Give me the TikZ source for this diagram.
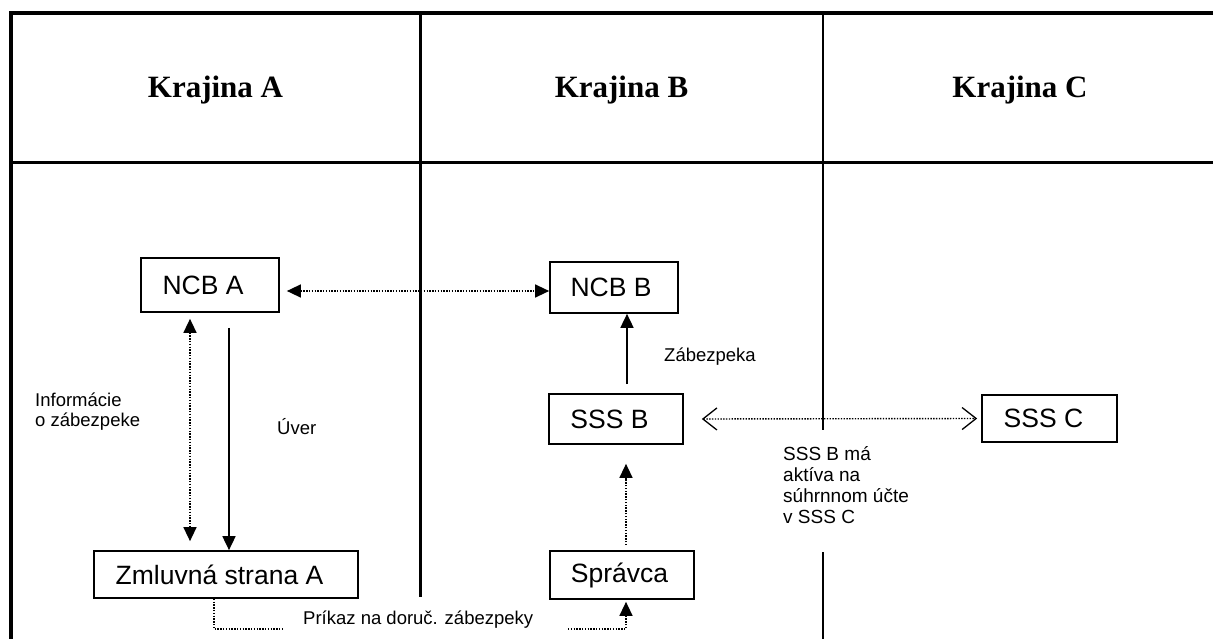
\documentclass[tikz,border=0pt]{standalone}
\usepackage{fontspec}
\setmainfont{Liberation Sans}
\newfontfamily\serifbf{Liberation Serif}
\usetikzlibrary{arrows.meta}
\begin{document}
\begin{tikzpicture}[x=1pt,y=-1pt,
  box/.style={draw, line width=1.7pt, inner sep=0pt, font=\fontsize{26.5}{30}\selectfont},
  head/.style={font=\serifbf\bfseries\fontsize{31}{36}\selectfont},
  lbl/.style={font=\fontsize{18.5}{20}\selectfont, align=left, inner sep=0pt},
  dots/.style={line width=1.4pt, dash pattern=on 1.4pt off 1.4pt},
  solidarrow/.style={line width=1.7pt, -{Triangle[length=14pt,width=13pt]}},
  dotarrow/.style={dots, -{Triangle[length=14pt,width=13pt]}},
  dotboth/.style={dots, {Triangle[length=14pt,width=13pt]}-{Triangle[length=14pt,width=13pt]}},
  barbboth/.style={dots, {Straight Barb[length=14pt,width=22pt,line width=1.3pt]}-{Straight Barb[length=14pt,width=22pt,line width=1.3pt]}}
]
\useasboundingbox (0,0) rectangle (1213,639);
% frame
\draw[line width=4pt] (11,639) -- (11,13) -- (1213,13);
\draw[line width=3pt] (11,163) -- (1213,163);
\draw[line width=3pt] (420,13) -- (420,597);
\draw[line width=2.5pt] (823,13) -- (823,430);
\draw[line width=2.5pt] (823,552) -- (823,639);
% headers
\node[head] (hA) at (215.5,90) {Krajina A};
\node[head] (hB) at (621.5,90) {Krajina B};
\node[head] (hC) at (1020,90) {Krajina C};
% boxes
\node[box, minimum width=138pt, minimum height=54pt] (ncbA) at (210,285) {NCB A\hspace*{14pt}};
\node[box, minimum width=128pt, minimum height=51pt] (ncbB) at (614,287.5) {NCB B\hspace*{6pt}};
\node[box, minimum width=134pt, minimum height=50pt] (sssB) at (616,419) {SSS B\hspace*{13pt}};
\node[box, minimum width=144pt, minimum height=48pt] (sprav) at (622,575) {Správca\hspace*{5pt}};
\node[box, minimum width=264pt, minimum height=47pt] (zml) at (226,574.5) {Zmluvná strana A\hspace*{13pt}};
\node[box, minimum width=135pt, minimum height=47pt] (sssC) at (1049.5,418.5) {SSS C\hspace*{12pt}};
% labels
\node[lbl, anchor=west] (linfo) at (35,412) {Informácie\\o zábezpeke};
\node[lbl, anchor=west] (luver) at (277,427) {Úver};
\node[lbl, anchor=west] (lzab) at (664,357) {Zábezpeka};
\node[lbl, anchor=west, font=\fontsize{19}{21}\selectfont] (lsss) at (783,485) {SSS B má\\aktíva na\\súhrnnom účte\\v SSS C};
\node[lbl, anchor=west] (lpri) at (303,620) {Príkaz na doruč. zábezpeky};
% connectors
\draw[dotboth] ([xshift=7pt,yshift=-6pt]ncbA.east) -- ([yshift=-3.5pt]ncbB.west);
\draw[dotboth] ([xshift=-20pt,yshift=-6pt]ncbA.south) -- ([xshift=-36pt,yshift=9pt]zml.north);
\draw[solidarrow] ([xshift=19pt,yshift=-15pt]ncbA.south) -- ([xshift=3pt]zml.north);
\draw[solidarrow] ([xshift=11pt,yshift=9pt]sssB.north) -- ([xshift=13pt]ncbB.south);
\draw[dotarrow] ([xshift=4pt,yshift=5pt]sprav.north) -- ([xshift=10pt,yshift=-19pt]sssB.south);
\draw[barbboth] ([xshift=18pt]sssB.east) -- ([xshift=-4pt]sssC.west);
\coordinate (pl) at (283,629);
\coordinate (pr) at (568,629);
\draw[dots] ([xshift=-12pt]zml.south) |- (pl);
\draw[dotarrow] (pr) -| ([xshift=4pt,yshift=-2pt]sprav.south);
\end{tikzpicture}
\end{document}
